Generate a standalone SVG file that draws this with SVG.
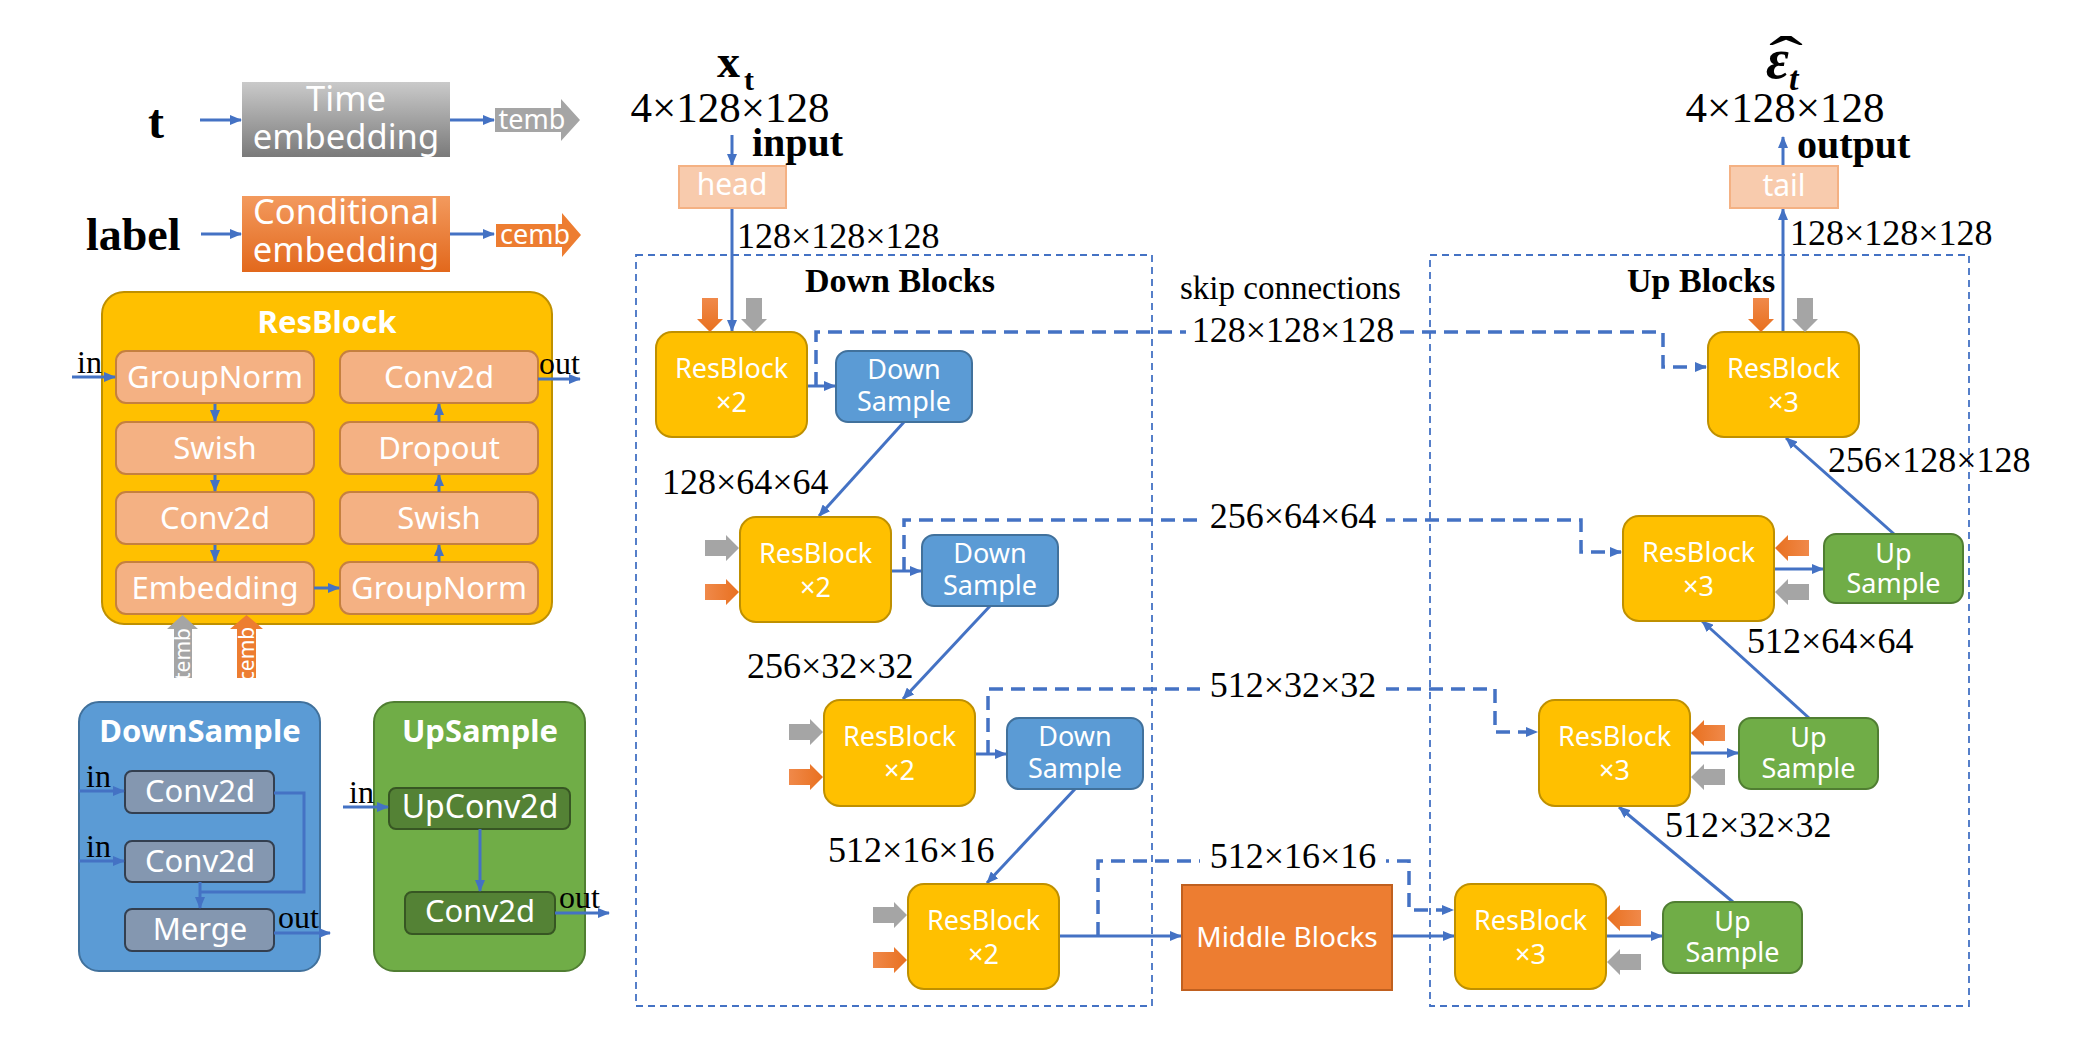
<svg xmlns="http://www.w3.org/2000/svg" width="2096" height="1059" viewBox="0 0 2096 1059">
  <defs>
    <style>
      .ln { stroke:#4472C4; stroke-width:3; fill:none; marker-end:url(#ah); }
      .ln2 { stroke:#4472C4; stroke-width:3; fill:none; }
      .skip { stroke:#4472C4; stroke-width:3.5; fill:none; stroke-dasharray:14 8; marker-end:url(#ah); }
      .frame { fill:none; stroke:#4472C4; stroke-width:1.8; stroke-dasharray:7 5; }
      .rb { fill:#FFC000; stroke:#BF9000; stroke-width:2; }
      .ds { fill:#5B9BD5; stroke:#41719C; stroke-width:2; }
      .us { fill:#70AD47; stroke:#507E32; stroke-width:2; }
      .cell { fill:#F4B183; stroke:#C5803F; stroke-width:2; }
      .dcell { fill:#8497B0; stroke:#333F50; stroke-width:2; }
      .ucell { fill:#548235; stroke:#375623; stroke-width:2; }
      .pale { fill:#F8CBAD; stroke:#F4B183; stroke-width:2; }
      .sans { font-family:"Noto Sans","Open Sans",sans-serif; fill:#FFFFFF; text-anchor:middle; }
      .s27 { font-size:27px; }
      .s31 { font-size:31px; }
      .s34 { font-size:34.5px; }
      .bold { font-weight:bold; }
      .serif { font-family:"Liberation Serif","Times New Roman",serif; fill:#000000; }
      .dim { font-size:36px; }
      .big { font-size:43px; }
      .io { font-size:32px; }
      .orange { fill:url(#gOrange); }
      .gray { fill:#A5A5A5; }
    </style>
    <marker id="ah" markerUnits="userSpaceOnUse" markerWidth="12" markerHeight="10" refX="11" refY="5" orient="auto">
      <path d="M0,0 L12,5 L0,10 Z" fill="#4472C4"/>
    </marker>
    <linearGradient id="gTime" x1="0" y1="0" x2="0" y2="1">
      <stop offset="0" stop-color="#CACACA"/>
      <stop offset="1" stop-color="#7A7A7A"/>
    </linearGradient>
    <linearGradient id="gCond" x1="0" y1="0" x2="0" y2="1">
      <stop offset="0" stop-color="#F39A5E"/>
      <stop offset="1" stop-color="#E2681C"/>
    </linearGradient>
    <linearGradient id="gOrange" x1="0" y1="0" x2="1" y2="0">
      <stop offset="0" stop-color="#F0894A"/>
      <stop offset="1" stop-color="#E8701F"/>
    </linearGradient>
    <!-- block arrow pointing right, tip at x=34 -->
    <path id="blk" d="M0,-8 H21 V-13 L34,0 L21,13 V8 H0 Z"/>
  </defs>

  <rect width="2096" height="1059" fill="#FFFFFF"/>

  <!-- embeddings legend -->
  <g id="time-embedding">
    <text class="serif bold" x="148" y="138" font-size="48">t</text>
    <line class="ln" x1="200" y1="120" x2="241" y2="120"/>
    <rect x="242" y="82" width="208" height="75" fill="url(#gTime)"/>
    <text class="sans s34" x="346" y="111">Time</text>
    <text class="sans s34" x="346" y="149">embedding</text>
    <line class="ln" x1="450" y1="120" x2="494" y2="120"/>
    <path d="M495,108 H561 V99 L580,120 L561,141 V132 H495 Z" fill="#A5A5A5"/>
    <text class="sans s27" x="532" y="129">temb</text>
  </g>
  <g id="conditional-embedding">
    <text class="serif bold" x="86" y="250" font-size="46">label</text>
    <line class="ln" x1="201" y1="234" x2="241" y2="234"/>
    <rect x="242" y="196" width="208" height="76" fill="url(#gCond)"/>
    <text class="sans s34" x="346" y="224">Conditional</text>
    <text class="sans s34" x="346" y="262">embedding</text>
    <line class="ln" x1="450" y1="234" x2="494" y2="234"/>
    <path d="M496,224 H562 V213 L581,235 L562,257 V247 H496 Z" fill="#ED7D31"/>
    <text class="sans s27" x="535" y="244">cemb</text>
  </g>

  <!-- ResBlock detail -->
  <g id="resblock-detail">
    <rect x="102" y="292" width="450" height="332" rx="22" class="rb"/>
    <text class="sans bold s31" x="327" y="333">ResBlock</text>
    <rect class="cell" x="116" y="351" width="198" height="52" rx="10"/>
    <rect class="cell" x="116" y="422" width="198" height="52" rx="10"/>
    <rect class="cell" x="116" y="492" width="198" height="52" rx="10"/>
    <rect class="cell" x="116" y="562" width="198" height="52" rx="10"/>
    <rect class="cell" x="340" y="351" width="198" height="52" rx="10"/>
    <rect class="cell" x="340" y="422" width="198" height="52" rx="10"/>
    <rect class="cell" x="340" y="492" width="198" height="52" rx="10"/>
    <rect class="cell" x="340" y="562" width="198" height="52" rx="10"/>
    <text class="sans s31" x="215" y="388">GroupNorm</text>
    <text class="sans s31" x="215" y="459">Swish</text>
    <text class="sans s31" x="215" y="529">Conv2d</text>
    <text class="sans s31" x="215" y="599">Embedding</text>
    <text class="sans s31" x="439" y="388">Conv2d</text>
    <text class="sans s31" x="439" y="459">Dropout</text>
    <text class="sans s31" x="439" y="529">Swish</text>
    <text class="sans s31" x="439" y="599">GroupNorm</text>
    <line class="ln" x1="215" y1="404" x2="215" y2="421"/>
    <line class="ln" x1="215" y1="475" x2="215" y2="491"/>
    <line class="ln" x1="215" y1="545" x2="215" y2="561"/>
    <line class="ln" x1="439" y1="562" x2="439" y2="545"/>
    <line class="ln" x1="439" y1="492" x2="439" y2="475"/>
    <line class="ln" x1="439" y1="422" x2="439" y2="404"/>
    <line class="ln" x1="314" y1="588" x2="339" y2="588"/>
    <text class="serif io" x="77" y="373">in</text>
    <line class="ln" x1="72" y1="377" x2="115" y2="377"/>
    <text class="serif io" x="539" y="374">out</text>
    <line class="ln" x1="538" y1="379" x2="580" y2="379"/>
    <path d="M174,678 V629 H167 L182.5,615 L198,629 H192 V678 Z" fill="#A5A5A5"/>
    <text class="sans" font-size="21" x="0" y="0" transform="translate(190,654) rotate(-90)">temb</text>
    <path d="M237,678 V629 H230 L246.5,615 L263,629 H256 V678 Z" fill="#ED7D31"/>
    <text class="sans" font-size="21" x="0" y="0" transform="translate(254,654) rotate(-90)">cemb</text>
  </g>

  <!-- DownSample detail -->
  <g id="downsample-detail">
    <rect x="79" y="702" width="241" height="269" rx="20" class="ds"/>
    <text class="sans bold s31" x="200" y="742">DownSample</text>
    <rect class="dcell" x="125" y="771" width="149" height="42" rx="7"/>
    <rect class="dcell" x="125" y="841" width="149" height="41" rx="7"/>
    <rect class="dcell" x="125" y="909" width="149" height="42" rx="7"/>
    <text class="sans s31" x="200" y="802">Conv2d</text>
    <text class="sans s31" x="200" y="872">Conv2d</text>
    <text class="sans s31" x="200" y="940">Merge</text>
    <path class="ln2" d="M274,793 H304 V892 H200"/>
    <line class="ln" x1="200" y1="882" x2="200" y2="908"/>
    <text class="serif io" x="86" y="787">in</text>
    <line class="ln" x1="79" y1="791" x2="124" y2="791"/>
    <text class="serif io" x="86" y="857">in</text>
    <line class="ln" x1="79" y1="861" x2="124" y2="861"/>
    <text class="serif io" x="278" y="928">out</text>
    <line class="ln" x1="274" y1="933" x2="330" y2="933"/>
  </g>

  <!-- UpSample detail -->
  <g id="upsample-detail">
    <rect x="374" y="702" width="211" height="269" rx="20" class="us"/>
    <text class="sans bold s31" x="480" y="742">UpSample</text>
    <rect class="ucell" x="389" y="788" width="181" height="41" rx="7"/>
    <rect class="ucell" x="405" y="892" width="150" height="42" rx="7"/>
    <text class="sans" font-size="32" x="480" y="818">UpConv2d</text>
    <text class="sans s31" x="480" y="922">Conv2d</text>
    <line class="ln" x1="480" y1="829" x2="480" y2="891"/>
    <text class="serif io" x="349" y="803">in</text>
    <line class="ln" x1="343" y1="807" x2="388" y2="807"/>
    <text class="serif io" x="559" y="908">out</text>
    <line class="ln" x1="555" y1="913" x2="609" y2="913"/>
  </g>

  <!-- block frames -->
  <g id="frames">
    <rect class="frame" x="636" y="255" width="516" height="751"/>
    <rect class="frame" x="1430" y="255" width="539" height="751"/>
    <text class="serif bold" x="805" y="292" font-size="34">Down Blocks</text>
    <text class="serif bold" x="1627" y="292" font-size="34">Up Blocks</text>
    <text class="serif" x="1180" y="299" font-size="33">skip connections</text>
  </g>

  <!-- connectors -->
  <g id="connectors">
    <!-- skip connections -->
    <path class="skip" d="M816,386 V332 H1663 V367 H1706"/>
    <path class="skip" d="M904,571 V520 H1581 V552 H1621"/>
    <path class="skip" d="M988,754 V689 H1495 V732 H1537"/>
    <path class="skip" d="M1098,936 V861 H1409 V910 H1453"/>
    <rect x="1186" y="316" width="214" height="32" fill="#FFFFFF"/>
    <rect x="1200" y="504" width="186" height="32" fill="#FFFFFF"/>
    <rect x="1200" y="673" width="186" height="32" fill="#FFFFFF"/>
    <rect x="1200" y="845" width="186" height="32" fill="#FFFFFF"/>
    <text class="serif dim" x="1293" y="342" text-anchor="middle">128×128×128</text>
    <text class="serif dim" x="1293" y="528" text-anchor="middle">256×64×64</text>
    <text class="serif dim" x="1293" y="697" text-anchor="middle">512×32×32</text>
    <text class="serif dim" x="1293" y="868" text-anchor="middle">512×16×16</text>

    <!-- input / output path -->
    <line class="ln" x1="732" y1="135" x2="732" y2="165"/>
    <line class="ln" x1="732" y1="208" x2="732" y2="331"/>
    <line class="ln" x1="1783" y1="332" x2="1783" y2="209"/>
    <line class="ln" x1="1783" y1="166" x2="1783" y2="137"/>

    <!-- down path -->
    <line class="ln" x1="807" y1="386" x2="835" y2="386"/>
    <line class="ln" x1="904" y1="422" x2="819" y2="516"/>
    <line class="ln" x1="891" y1="571" x2="921" y2="571"/>
    <line class="ln" x1="990" y1="606" x2="903" y2="699"/>
    <line class="ln" x1="975" y1="754" x2="1006" y2="754"/>
    <line class="ln" x1="1075" y1="789" x2="987" y2="883"/>
    <line class="ln" x1="1059" y1="936" x2="1181" y2="936"/>

    <!-- up path -->
    <line class="ln" x1="1392" y1="936" x2="1454" y2="936"/>
    <line class="ln" x1="1606" y1="936" x2="1662" y2="936"/>
    <line class="ln" x1="1733" y1="902" x2="1619" y2="807"/>
    <line class="ln" x1="1690" y1="753" x2="1738" y2="753"/>
    <line class="ln" x1="1809" y1="718" x2="1702" y2="621"/>
    <line class="ln" x1="1774" y1="569" x2="1823" y2="569"/>
    <line class="ln" x1="1894" y1="534" x2="1786" y2="438"/>
  </g>

  <!-- input / output -->
  <g id="input">
    <text class="serif bold" x="717" y="77" font-size="46">x<tspan font-size="30" dx="4" dy="13">t</tspan></text>
    <text class="serif big" x="730" y="122" text-anchor="middle">4×128×128</text>
    <text class="serif bold" x="752" y="156" font-size="40">input</text>
    <rect class="pale" x="679" y="166" width="107" height="42"/>
    <text class="sans" font-size="30" x="732" y="195">head</text>
    <text class="serif dim" x="737" y="248">128×128×128</text>
  </g>
  <g id="output">
    <!-- wide hat over epsilon -->
    <text class="serif" x="0" y="0" font-size="60" text-anchor="middle" transform="translate(1786,77) scale(1.7,1)">ˆ</text>
    <text class="serif bold" x="1766" y="78" font-size="56" font-style="italic">ε<tspan font-size="34" dy="12">t</tspan></text>
    <text class="serif big" x="1785" y="122" text-anchor="middle">4×128×128</text>
    <text class="serif bold" x="1797" y="158" font-size="40">output</text>
    <rect class="pale" x="1730" y="166" width="108" height="42"/>
    <text class="sans" font-size="30" x="1784" y="196">tail</text>
    <text class="serif dim" x="1790" y="245">128×128×128</text>
  </g>

  <!-- down blocks -->
  <g id="down-resblock-1">
    <rect class="rb" x="656" y="332" width="151" height="105" rx="16"/>
    <text class="sans s27" x="731.5" y="378">ResBlock</text>
    <text class="sans s27" x="731.5" y="412">×2</text>
    <use href="#blk" class="orange" transform="translate(710,298) rotate(90)"/>
    <use href="#blk" class="gray" transform="translate(754,298) rotate(90)"/>
  </g>
  <g id="down-sample-1">
    <rect class="ds" x="836" y="351" width="136" height="71" rx="12"/>
    <text class="sans s27" x="904" y="379">Down</text>
    <text class="sans s27" x="904" y="411">Sample</text>
  </g>
  <text class="serif dim" x="662" y="494">128×64×64</text>
  <g id="down-resblock-2">
    <rect class="rb" x="740" y="517" width="151" height="105" rx="16"/>
    <text class="sans s27" x="815.5" y="563">ResBlock</text>
    <text class="sans s27" x="815.5" y="597">×2</text>
    <use href="#blk" class="gray" transform="translate(705,548)"/>
    <use href="#blk" class="orange" transform="translate(705,592)"/>
  </g>
  <g id="down-sample-2">
    <rect class="ds" x="922" y="535" width="136" height="71" rx="12"/>
    <text class="sans s27" x="990" y="563">Down</text>
    <text class="sans s27" x="990" y="595">Sample</text>
  </g>
  <text class="serif dim" x="747" y="678">256×32×32</text>
  <g id="down-resblock-3">
    <rect class="rb" x="824" y="700" width="151" height="106" rx="16"/>
    <text class="sans s27" x="899.5" y="746">ResBlock</text>
    <text class="sans s27" x="899.5" y="780">×2</text>
    <use href="#blk" class="gray" transform="translate(789,732)"/>
    <use href="#blk" class="orange" transform="translate(789,777)"/>
  </g>
  <g id="down-sample-3">
    <rect class="ds" x="1007" y="718" width="136" height="71" rx="12"/>
    <text class="sans s27" x="1075" y="746">Down</text>
    <text class="sans s27" x="1075" y="778">Sample</text>
  </g>
  <text class="serif dim" x="828" y="862">512×16×16</text>
  <g id="down-resblock-4">
    <rect class="rb" x="908" y="884" width="151" height="105" rx="16"/>
    <text class="sans s27" x="983.5" y="930">ResBlock</text>
    <text class="sans s27" x="983.5" y="964">×2</text>
    <use href="#blk" class="gray" transform="translate(873,915)"/>
    <use href="#blk" class="orange" transform="translate(873,960)"/>
  </g>

  <!-- middle -->
  <g id="middle-blocks">
    <rect x="1182" y="885" width="210" height="105" fill="#ED7D31" stroke="#C0601F" stroke-width="2"/>
    <text class="sans" font-size="28" x="1287" y="947">Middle Blocks</text>
  </g>

  <!-- up blocks -->
  <g id="up-resblock-4">
    <rect class="rb" x="1455" y="884" width="151" height="105" rx="16"/>
    <text class="sans s27" x="1530.5" y="930">ResBlock</text>
    <text class="sans s27" x="1530.5" y="964">×3</text>
    <use href="#blk" class="orange" transform="translate(1641,918) scale(-1,1)"/>
    <use href="#blk" class="gray" transform="translate(1641,962) scale(-1,1)"/>
  </g>
  <g id="up-sample-4">
    <rect class="us" x="1663" y="902" width="139" height="71" rx="12"/>
    <text class="sans s27" x="1732.5" y="931">Up</text>
    <text class="sans s27" x="1732.5" y="962">Sample</text>
  </g>
  <text class="serif dim" x="1665" y="837">512×32×32</text>
  <g id="up-resblock-3">
    <rect class="rb" x="1539" y="700" width="151" height="106" rx="16"/>
    <text class="sans s27" x="1614.5" y="746">ResBlock</text>
    <text class="sans s27" x="1614.5" y="780">×3</text>
    <use href="#blk" class="orange" transform="translate(1725,733) scale(-1,1)"/>
    <use href="#blk" class="gray" transform="translate(1725,777) scale(-1,1)"/>
  </g>
  <g id="up-sample-3">
    <rect class="us" x="1739" y="718" width="139" height="71" rx="12"/>
    <text class="sans s27" x="1808.5" y="747">Up</text>
    <text class="sans s27" x="1808.5" y="778">Sample</text>
  </g>
  <text class="serif dim" x="1747" y="653">512×64×64</text>
  <g id="up-resblock-2">
    <rect class="rb" x="1623" y="516" width="151" height="105" rx="16"/>
    <text class="sans s27" x="1698.5" y="562">ResBlock</text>
    <text class="sans s27" x="1698.5" y="596">×3</text>
    <use href="#blk" class="orange" transform="translate(1809,548) scale(-1,1)"/>
    <use href="#blk" class="gray" transform="translate(1809,592) scale(-1,1)"/>
  </g>
  <g id="up-sample-2">
    <rect class="us" x="1824" y="534" width="139" height="69" rx="12"/>
    <text class="sans s27" x="1893.5" y="563">Up</text>
    <text class="sans s27" x="1893.5" y="593">Sample</text>
  </g>
  <text class="serif dim" x="1828" y="472">256×128×128</text>
  <g id="up-resblock-1">
    <rect class="rb" x="1708" y="332" width="151" height="105" rx="16"/>
    <text class="sans s27" x="1783.5" y="378">ResBlock</text>
    <text class="sans s27" x="1783.5" y="412">×3</text>
    <use href="#blk" class="orange" transform="translate(1761,298) rotate(90)"/>
    <use href="#blk" class="gray" transform="translate(1805,298) rotate(90)"/>
  </g>
</svg>
